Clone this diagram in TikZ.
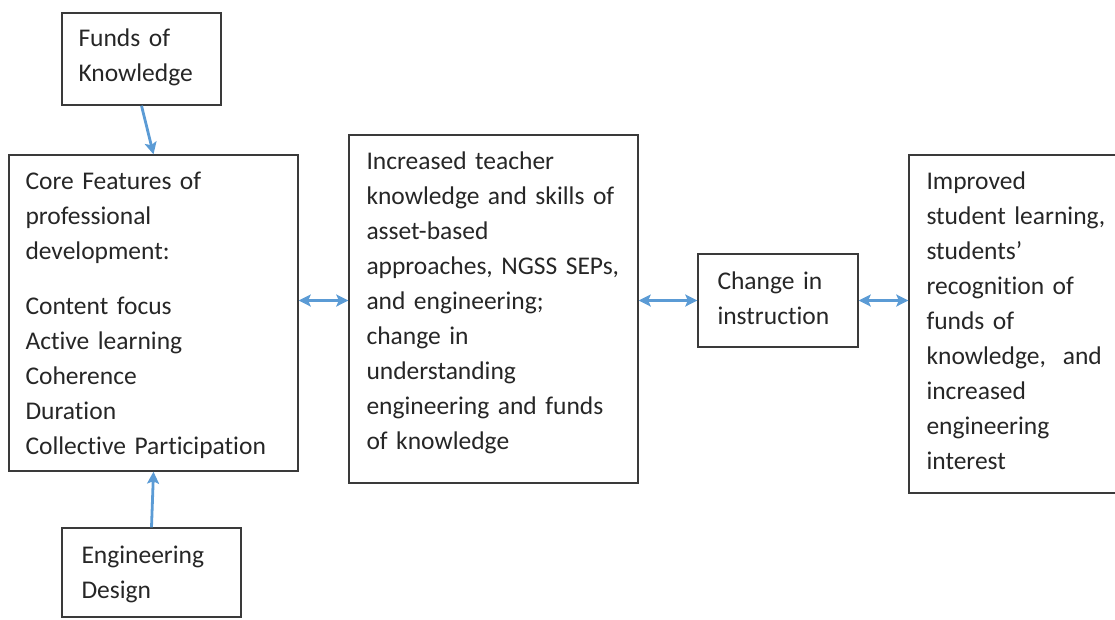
\documentclass[tikz,border=0pt]{standalone}
\usepackage{fontspec}
\setmainfont{Carlito}[Ligatures=NoCommon]
\usetikzlibrary{arrows.meta,positioning}
\definecolor{arrowblue}{HTML}{5B9BD5}
\definecolor{boxgray}{HTML}{3A3A3A}
\tikzset{
  box/.style={draw=boxgray, line width=1.4pt, inner sep=0pt},
  txt/.style={anchor=base west, inner sep=0pt, text width=280pt, align=left,
    text=black!85, font=\fontsize{25.5}{35}\selectfont},
  link/.style={arrowblue, line width=2.8pt, -{Stealth[length=12pt,width=12pt,inset=2.5pt]}},
  twoway/.style={link, {Stealth[length=12pt,width=12pt,inset=2.5pt]}-{Stealth[length=12pt,width=12pt,inset=2.5pt]}}
}
\begin{document}
\begin{tikzpicture}[x=1pt,y=-1pt]
       \useasboundingbox (0,0) rectangle (1115,619);

       \node(fok)[box, minimum width=159pt, minimum height=92pt] at (141.5,59) {};
       \node(fokT)[txt] at ([shift={(17pt,-34pt)}]fok.north west) {Funds of\\Knowledge};

       \node(core)[box, minimum width=289pt, minimum height=316pt] at (153.5,313) {};
       \node(coreT)[txt] at ([shift={(17pt,-35pt)}]core.north west) {Core Features of\\professional\\development:\\[20pt]Content focus\\Active learning\\Coherence\\Duration\\Collective Participation};

       \node(eng)[box, minimum width=179pt, minimum height=89pt] at (151.5,572.5) {};
       \node(engT)[txt] at ([shift={(20pt,-36pt)}]eng.north west) {Engineering\\Design};

       \node(mid)[box, minimum width=289pt, minimum height=348pt] at (493.5,309) {};
       \node(midT)[txt] at ([shift={(18pt,-35pt)}]mid.north west) {Increased teacher\\knowledge and skills of\\asset-based\\approaches, NGSS SEPs,\\and engineering;\\change in\\understanding\\engineering and funds\\of knowledge};

       \node(chg)[box, minimum width=160pt, minimum height=93pt] at (778,300.5) {};
       \node(chgT)[txt] at ([shift={(20pt,-36pt)}]chg.north west) {Change in\\instruction};

       \node(out)[box, minimum width=230pt, minimum height=338pt] at (1024,324) {};
       \node(outT)[txt] at ([shift={(18pt,-35pt)}]out.north west) {Improved\\student learning,\\students’\\recognition of\\funds of\\knowledge,~ and\\increased\\engineering\\interest};

       \draw[link] (fok.south) -- (core.north);
       \draw[link] (eng.north) -- (core.south);

       \draw[twoway] (core.east |- chg.west) -- (mid.west |- chg.west);
       \draw[twoway] (mid.east |- chg.west) -- (chg.west);
       \draw[twoway] (chg.east) -- (out.west |- chg.east);

\end{tikzpicture}
\end{document}
